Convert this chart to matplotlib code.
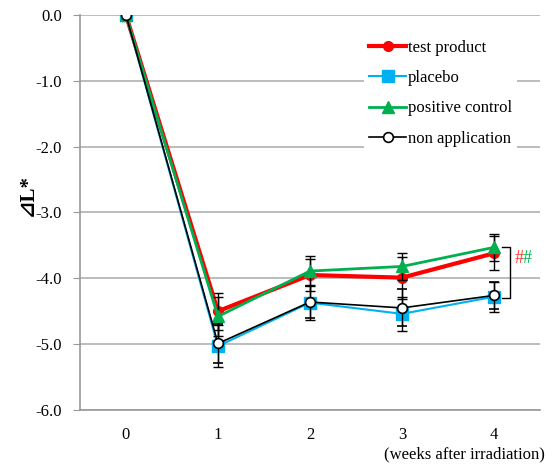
import matplotlib
matplotlib.use("Agg")
import matplotlib.pyplot as plt
from matplotlib.lines import Line2D

weeks = [0, 1, 2, 3, 4]
test_product = [0.0, -4.50, -3.95, -3.99, -3.62]
test_err = [0.0, 0.28, 0.25, 0.32, 0.26]
placebo = [0.0, -5.03, -4.37, -4.54, -4.28]
placebo_err = [0.0, 0.32, 0.27, 0.26, 0.23]
positive_control = [0.0, -4.58, -3.89, -3.82, -3.53]
positive_err = [0.0, 0.30, 0.23, 0.21, 0.21]
non_application = [0.0, -4.99, -4.36, -4.45, -4.26]
non_err = [0.0, 0.30, 0.25, 0.28, 0.20]
yticks = [0.0, -1.0, -2.0, -3.0, -4.0, -5.0, -6.0]

plt.rcParams['font.family'] = 'serif'
plt.rcParams['font.serif'] = ['Liberation Serif', 'DejaVu Serif']

fig = plt.figure(figsize=(5.55, 4.68), dpi=100)
ax = fig.add_axes([0.144, 0.124, 0.829, 0.844])

ekw = dict(ecolor='black', elinewidth=1.0, capsize=3.5, capthick=1.0)
series = [
    (test_product, test_err, dict(color='#FF0000', lw=3, marker='o', ms=7), 'test product', 3),
    (placebo, placebo_err, dict(color='#00B0F0', lw=1.5, marker='s', ms=8), 'placebo', 3),
    (positive_control, positive_err, dict(color='#00B050', lw=2, marker='^', ms=8), 'positive control', 4),
    (non_application, non_err, dict(color='black', lw=1.2, marker='o', ms=7, mfc='white',
                                    mec='black', mew=1.2), 'non application', 5),
]
handles = []
for vals, err, st, lab, z in series:
    ax.errorbar(weeks, vals, yerr=err, zorder=z, **st, **ekw)
    handles.append(Line2D([], [], label=lab, **st))

ax.set_xlim(-0.5, 4.5)
ax.set_ylim(-6.0, 0.0)
ax.set_yticks(yticks)
ax.set_yticklabels([f"{v:.1f}" for v in yticks], fontsize=12)
ax.set_xticks(weeks)
ax.set_xticklabels([str(w) for w in weeks], fontsize=12)
ax.tick_params(axis='x', length=0, pad=12)
ax.tick_params(axis='y', length=5, color='#999999', pad=8, direction='out')
ax.yaxis.grid(True, color='#B0B0B0', lw=1.2)
ax.set_axisbelow(True)
for s in ['top', 'right']:
    ax.spines[s].set_visible(False)
for s in ['left', 'bottom']:
    ax.spines[s].set_color('#999999')
    ax.spines[s].set_linewidth(1.2)

ax.set_ylabel('⊿L*', fontsize=15, fontweight='bold',
              family=['Liberation Serif', 'DejaVu Serif', 'DejaVu Sans'])
ax.yaxis.set_label_coords(-0.092, 0.545)
fig.text(0.982, 0.012, '(weeks after irradiation)', ha='right', va='bottom', fontsize=12)

leg = ax.legend(handles=handles, loc='upper left', bbox_to_anchor=(0.60, 0.97), frameon=True,
                fontsize=12, handlelength=2.2, handletextpad=0.1, labelspacing=0.85, borderpad=0.3)
leg.get_frame().set_facecolor('white')
leg.get_frame().set_edgecolor('none')
leg.get_frame().set_alpha(1)

# significance bracket
ax.plot([4.09, 4.17, 4.17, 4.09], [-3.52, -3.52, -4.30, -4.30], color='black', lw=1.0, clip_on=False)
ax.text(4.22, -3.70, '#', color='#FF3333', fontsize=13, ha='left', va='center')
ax.text(4.31, -3.70, '#', color='#00B050', fontsize=13, ha='left', va='center')

fig.savefig('out.png', dpi=100)
